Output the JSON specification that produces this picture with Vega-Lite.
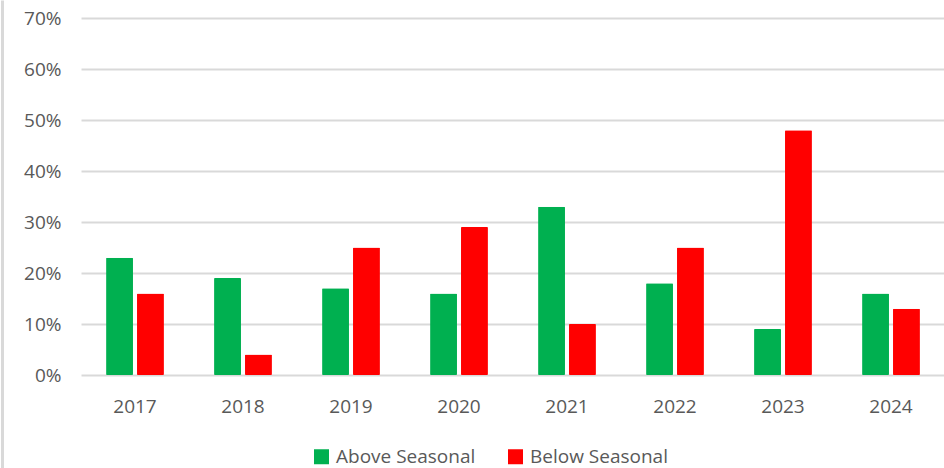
{
  "$schema": "https://vega.github.io/schema/vega-lite/v6.json",
  "autosize": "none",
  "width": 864,
  "height": 357,
  "padding": {"left": 81, "top": 18, "right": 0, "bottom": 93},
  "background": "white",
  "data": {"values": [
    {"year": "2017", "series": "Above Seasonal", "value": 0.23},
    {"year": "2017", "series": "Below Seasonal", "value": 0.16},
    {"year": "2018", "series": "Above Seasonal", "value": 0.19},
    {"year": "2018", "series": "Below Seasonal", "value": 0.04},
    {"year": "2019", "series": "Above Seasonal", "value": 0.17},
    {"year": "2019", "series": "Below Seasonal", "value": 0.25},
    {"year": "2020", "series": "Above Seasonal", "value": 0.16},
    {"year": "2020", "series": "Below Seasonal", "value": 0.29},
    {"year": "2021", "series": "Above Seasonal", "value": 0.33},
    {"year": "2021", "series": "Below Seasonal", "value": 0.10},
    {"year": "2022", "series": "Above Seasonal", "value": 0.18},
    {"year": "2022", "series": "Below Seasonal", "value": 0.25},
    {"year": "2023", "series": "Above Seasonal", "value": 0.09},
    {"year": "2023", "series": "Below Seasonal", "value": 0.48},
    {"year": "2024", "series": "Above Seasonal", "value": 0.16},
    {"year": "2024", "series": "Below Seasonal", "value": 0.13}
  ]},
  "encoding": {
    "x": {
      "field": "year", "type": "nominal",
      "scale": {"paddingInner": 0, "paddingOuter": 0},
      "axis": {"title": null, "labelAngle": 0, "domain": false, "ticks": false, "grid": false, "labelPadding": 22, "labelFontSize": 19, "labelColor": "#595959", "labelFont": "Open Sans", "labelOverlap": false}
    },
    "xOffset": {"field": "series", "type": "nominal", "scale": {"paddingInner": 0.13, "paddingOuter": 0.81}}
  },
  "layer": [
    {
      "mark": {"type": "bar", "cornerRadius": 1},
      "encoding": {
        "y": {
          "field": "value", "type": "quantitative",
          "scale": {"domain": [0, 0.7], "nice": false},
          "axis": {"title": null, "format": ".0%", "values": [0, 0.1, 0.2, 0.3, 0.4, 0.5, 0.6, 0.7], "domain": false, "ticks": false, "grid": true, "gridColor": "#d9d9d9", "gridWidth": 2, "labelPadding": 20, "labelFontSize": 19, "labelColor": "#595959", "labelFont": "Open Sans", "labelOverlap": false, "labelBound": false, "labelFlush": false}
        },
        "color": {
          "field": "series", "type": "nominal",
          "scale": {"domain": ["Above Seasonal", "Below Seasonal"], "range": ["#00B050", "#FF0000"]},
          "legend": {
            "title": null, "orient": "none", "direction": "horizontal",
            "legendX": 231, "legendY": 429,
            "symbolType": "square", "symbolSize": 225, "symbolStrokeWidth": 0,
            "labelFontSize": 19, "labelColor": "#595959", "labelFont": "Open Sans",
            "labelOffset": 5, "columnPadding": 30
          }
        }
      }
    },
    {
      "mark": {"type": "bar", "opacity": 0},
      "encoding": {
        "y": {
          "field": "value", "type": "quantitative",
          "scale": {"domain": [0, 0.7], "nice": false, "range": [450, -18]},
          "axis": {"title": null, "orient": "right", "offset": -943, "domain": true, "domainColor": "#d9d9d9", "domainWidth": 3, "labels": false, "ticks": false, "grid": false}
        }
      }
    }
  ],
  "resolve": {"axis": {"y": "independent"}, "scale": {"y": "independent"}},
  "config": {"view": {"stroke": null}}
}
